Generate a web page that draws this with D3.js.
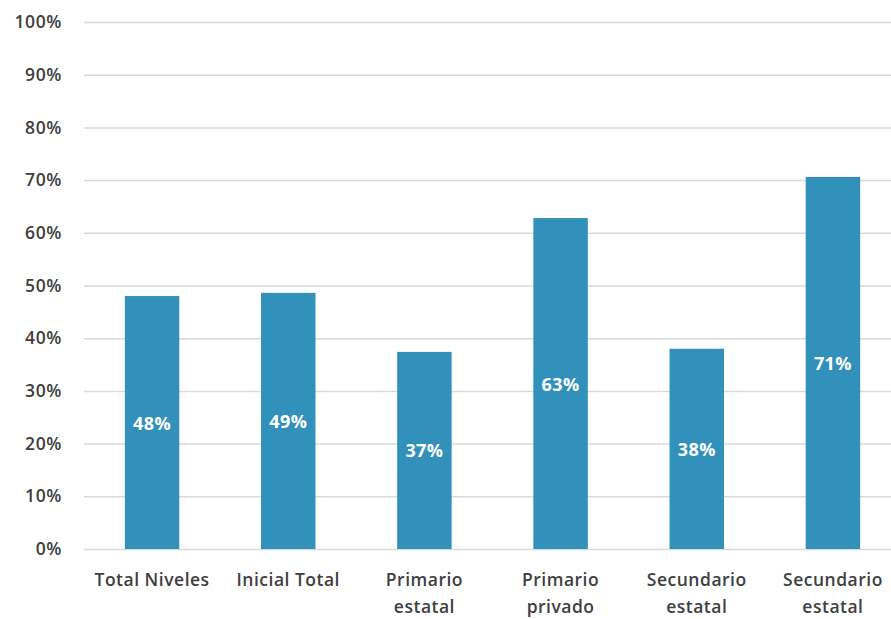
<!DOCTYPE html>
<html><head><meta charset="utf-8">
<script src="https://cdn.jsdelivr.net/npm/d3@7"></script>
<style>body{margin:0;background:#fff;} svg{display:block;}</style>
</head><body>
<svg id="c" width="891" height="619"></svg>
<script>
const categories = [["Total Niveles"],["Inicial Total"],["Primario","estatal"],["Primario","privado"],["Secundario","estatal"],["Secundario","estatal"]];
const values = [0.48, 0.486, 0.374, 0.628, 0.380, 0.706];
const yTicks = [0,0.1,0.2,0.3,0.4,0.5,0.6,0.7,0.8,0.9,1.0];

const svg = d3.select("#c");
const m = {left:84, right:901, top:22, bottom:549};
const x = d3.scaleBand().domain(d3.range(values.length)).range([m.left, m.right]).paddingInner(0.6).paddingOuter(0.3);
const y = d3.scaleLinear().domain([0,1]).range([m.bottom, m.top]);
const font = "'Open Sans', 'Noto Sans', sans-serif";

const yAxis = d3.axisLeft(y).tickValues(yTicks).tickFormat(d3.format(".0%")).tickSize(-(m.right-m.left)).tickPadding(22);
const ga = svg.append("g").attr("transform",`translate(${m.left},0)`).call(yAxis);
ga.select(".domain").remove();
ga.selectAll(".tick line").attr("stroke","#d9d9d9").attr("stroke-width",1.5);
ga.selectAll(".tick text").attr("fill","#404040").style("font-family",font).style("font-size","17.5px").style("font-weight","600").style("letter-spacing","0.6px");

svg.append("g").selectAll("rect").data(values).join("rect")
  .attr("x",(d,i)=>x(i)).attr("width",x.bandwidth())
  .attr("y",d=>y(d)).attr("height",d=>y(0)-y(d))
  .attr("fill","#3291ba");

svg.append("g").selectAll("text").data(values).join("text")
  .attr("x",(d,i)=>x(i)+x.bandwidth()/2).attr("y",d=>(y(d)+y(0))/2)
  .attr("text-anchor","middle").attr("dominant-baseline","central")
  .attr("fill","#ffffff").style("font-family",font).style("font-size","18px").style("font-weight","700").style("letter-spacing","0.4px")
  .text(d=>d3.format(".0%")(d));

const xa = d3.axisBottom(x).tickSize(0).tickFormat("");
const gx = svg.append("g").attr("transform",`translate(0,${m.bottom})`).call(xa);
gx.select(".domain").remove();
gx.selectAll(".tick").each(function(i){
  const t = d3.select(this).append("text").attr("fill","#404040").attr("text-anchor","middle")
    .style("font-family",font).style("font-size","17.5px").style("font-weight","600").style("letter-spacing","0.5px");
  categories[i].forEach((s,k)=>t.append("tspan").attr("x",0).attr("y",37+k*27).text(s));
});
</script>
</body></html>
